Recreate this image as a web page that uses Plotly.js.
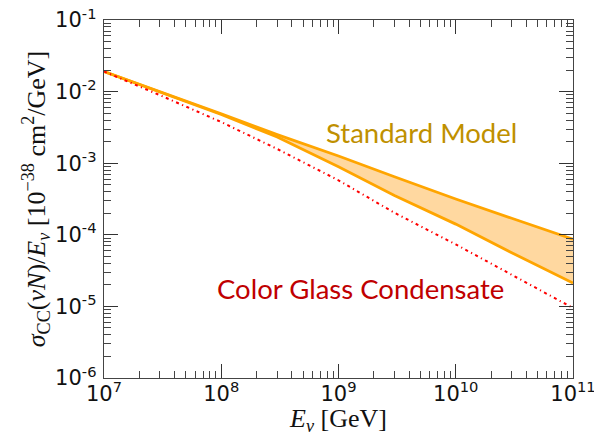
<!DOCTYPE html>
<html>
<head>
<meta charset="utf-8">
<script src="https://cdn.plot.ly/plotly-3.0.1.min.js"></script>
<style>html,body{margin:0;padding:0;background:#fff;}#chart{width:594px;height:436px;}</style>
</head>
<body>
<div id="chart"></div>
<script>
// Neutrino energy [GeV]
var energy = [1e7, 3e7, 1e8, 3e8, 1e9, 3e9, 1e10, 3e10, 1e11];
// Standard Model band: upper and lower edges
var smUpper = [0.0191, 0.0100, 0.00490, 0.00251, 0.00126, 6.46e-4, 3.16e-4, 1.70e-4, 8.7e-5];
var smLower = [0.0191, 0.00989, 0.00479, 0.00232, 8.9e-4, 3.55e-4, 1.41e-4, 5.62e-5, 2.12e-5];
// Color Glass Condensate
var cgc = [0.0191, 0.00891, 0.00376, 0.00158, 5.77e-4, 2.03e-4, 7.33e-5, 2.75e-5, 9.5e-6];

var xTickVals = [1e7, 1e8, 1e9, 1e10, 1e11];
var xTickText = ['10<sup>7</sup>', '10<sup>8</sup>', '10<sup>9</sup>', '10<sup>10</sup>', '10<sup>11</sup>'];
var yTickVals = [1e-6, 1e-5, 1e-4, 1e-3, 1e-2, 1e-1];
var yTickText = ['10<sup>-6</sup>', '10<sup>-5</sup>', '10<sup>-4</sup>', '10<sup>-3</sup>', '10<sup>-2</sup>', '10<sup>-1</sup>'];

var traces = [
  {x: energy, y: smLower, mode: 'lines', line: {color: '#FFA500', width: 2.8}, hoverinfo: 'skip', showlegend: false},
  {x: energy, y: smUpper, mode: 'lines', fill: 'tonexty', fillcolor: 'rgb(255,216,160)',
   line: {color: '#FFA500', width: 2.8}, hoverinfo: 'skip', showlegend: false},
  {x: energy, y: cgc, mode: 'lines', line: {color: '#FF0000', width: 2, dash: '3px,3.5px,1.2px,3.5px'},
   hoverinfo: 'skip', showlegend: false}
];

var axisCommon = {
  type: 'log', showgrid: false, zeroline: false,
  showline: true, linecolor: '#444', linewidth: 1.3, mirror: 'allticks',
  ticks: 'inside', ticklen: 14, tickwidth: 1.2, tickcolor: '#333',
  tickmode: 'array', ticklabeloverflow: 'allow',
  tickfont: {family: 'DejaVu Sans', size: 21, color: '#111'},
  minor: {ticks: 'inside', ticklen: 7, tickwidth: 1, tickcolor: '#444', dtick: 'D1', showgrid: false}
};

var layout = {
  width: 594, height: 436,
  margin: {l: 104, r: 21, t: 20, b: 58},
  paper_bgcolor: '#fff', plot_bgcolor: '#fff',
  xaxis: Object.assign({}, axisCommon, {
    range: [7, 11], tickvals: xTickVals, ticktext: xTickText, ticklabelstandoff: -4,
    title: {text: '<i>E</i><sub><i>ν</i></sub> [GeV]', font: {family: 'Liberation Serif', size: 26, color: '#111'}, standoff: 0}
  }),
  yaxis: Object.assign({}, axisCommon, {
    range: [-6, -1], tickvals: yTickVals, ticktext: yTickText, ticklabelstandoff: 2,
    title: {text: '<i>σ</i><sub>CC</sub>(<i>νN</i>)/<i>E</i><sub><i>ν</i></sub> [10<sup>−38</sup> cm<sup>2</sup>/GeV]',
            font: {family: 'Liberation Serif', size: 26, color: '#111'}, standoff: 2}
  }),
  annotations: [
    {xref: 'paper', yref: 'paper', x: 0.676, y: 0.687, text: 'Standard Model', showarrow: false,
     xanchor: 'center', yanchor: 'middle', font: {family: 'Lato', size: 27.5, color: '#BF9000'}},
    {xref: 'paper', yref: 'paper', x: 0.546, y: 0.249, text: 'Color Glass Condensate', showarrow: false,
     xanchor: 'center', yanchor: 'middle', font: {family: 'Lato', size: 27.5, color: '#C00000'}}
  ]
};

Plotly.newPlot('chart', traces, layout, {displayModeBar: false, staticPlot: true});
</script>
</body>
</html>
